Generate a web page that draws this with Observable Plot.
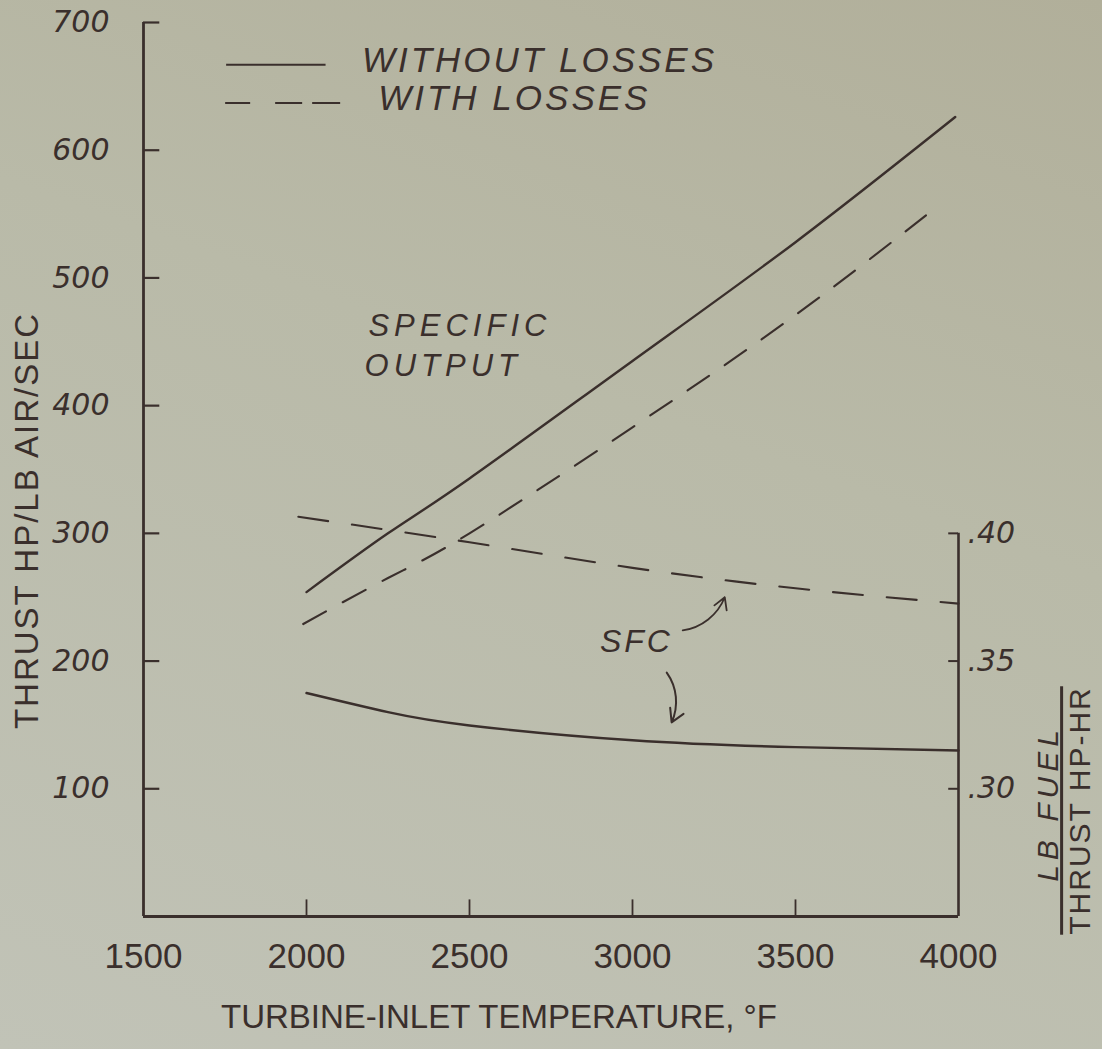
<!DOCTYPE html>
<html>
<head>
<meta charset="utf-8">
<script src="https://cdn.jsdelivr.net/npm/d3@7"></script>
<script src="https://cdn.jsdelivr.net/npm/@observablehq/plot@0.6"></script>
<style>
  html, body { margin: 0; padding: 0; }
  body {
    width: 1102px; height: 1049px; overflow: hidden;
    background: linear-gradient(200deg, #b1af9a 0%, #b9baa8 40%, #c1c3b7 100%);
  }
  #chart svg { display: block; }
</style>
</head>
<body>
<div id="chart"></div>
<script>
// ---- data ----
const xTicks = [1500, 2000, 2500, 3000, 3500, 4000];
const yTicks = [100, 200, 300, 400, 500, 600, 700];
const sfcTicks = [0.30, 0.35, 0.40];

// specific output, thrust hp per lb air/sec
const outTempsWithout = [2000, 2250, 2500, 3000, 3500, 3990];
const outWithout      = [254, 300, 343, 435, 528, 626];
const outTempsWith    = [1990, 2250, 2500, 3000, 3500, 3940];
const outWith         = [229, 265, 300, 383, 471, 557];

// specific fuel consumption, lb fuel / thrust hp-hr
const sfcTempsWithout = [2000, 2250, 2500, 3000, 3500, 4000];
const sfcWithout      = [0.3375, 0.3300, 0.3248, 0.3190, 0.3163, 0.3150];
const sfcTempsWith    = [1975, 2500, 3000, 3500, 4000];
const sfcWith         = [0.4065, 0.3965, 0.3865, 0.3785, 0.3725];

// right axis: .30 <-> 100, .40 <-> 300 on the left scale
const sfcToLeft = s => (s - 0.25) * 2000;
const leftToSfc = v => v / 2000 + 0.25;

const rows = (xs, ys, series) => xs.map((x, i) => ({x, y: ys[i], series}));
const outA = rows(outTempsWithout, outWithout, "without");
const outB = rows(outTempsWith, outWith, "with");
const sfcA = rows(sfcTempsWithout, sfcWithout.map(sfcToLeft), "without");
const sfcB = rows(sfcTempsWith, sfcWith.map(sfcToLeft), "with");

const ink = "#3a2f2c";
const tickFont = "'DejaVu Sans', sans-serif";

const chart = Plot.plot({
  width: 1102,
  height: 1049,
  marginLeft: 143,
  marginRight: 144,
  marginTop: 22,
  marginBottom: 133,
  x: {domain: [1500, 4000]},
  y: {domain: [0, 700]},
  style: {background: "transparent", fontFamily: "'Liberation Sans', sans-serif", color: ink},
  marks: [
    // axis frame lines
    Plot.ruleX([1500], {y1: 0, y2: 700, stroke: ink, strokeWidth: 2.8}),
    Plot.ruleY([0], {x1: 1500, x2: 4000, stroke: ink, strokeWidth: 2.8}),
    Plot.ruleX([4000], {y1: 0, y2: sfcToLeft(0.40), stroke: ink, strokeWidth: 2.6}),
    // inward ticks
    Plot.ruleY(yTicks, {x1: 1500, x2: 1550, stroke: ink, strokeWidth: 2.2}),
    Plot.ruleX(xTicks.slice(1, -1), {y1: 0, y2: 13, stroke: ink, strokeWidth: 1.8}),
    Plot.ruleY(sfcTicks.map(sfcToLeft), {x1: 3970, x2: 4000, stroke: ink, strokeWidth: 2}),
    // tick labels
    Plot.axisY(yTicks, {anchor: "left", tickSize: 0, tickPadding: 34, fontSize: 30, fontStyle: "italic",
      fontFamily: tickFont, label: null, color: ink}),
    Plot.axisX(xTicks, {anchor: "bottom", tickSize: 0, tickPadding: 27, fontSize: 35, tickFormat: d => String(d),
      label: null, color: ink}),
    Plot.axisY(sfcTicks.map(sfcToLeft), {anchor: "right", tickSize: 0, tickPadding: 9, fontSize: 30, fontStyle: "italic",
      fontFamily: tickFont, tickFormat: v => "." + Math.round(leftToSfc(v) * 100), label: null, color: ink}),
    // curves
    Plot.line(outA, {x: "x", y: "y", curve: "natural", stroke: ink, strokeWidth: 2.4}),
    Plot.line(outB, {x: "x", y: "y", curve: "natural", stroke: ink, strokeWidth: 2.1, strokeDasharray: "26,19"}),
    Plot.line(sfcA, {x: "x", y: "y", curve: "natural", stroke: ink, strokeWidth: 2.4}),
    Plot.line(sfcB, {x: "x", y: "y", curve: "natural", stroke: ink, strokeWidth: 2.1, strokeDasharray: "30,24"}),
    // legend
    Plot.ruleY([667], {x1: 1755, x2: 2060, stroke: ink, strokeWidth: 2}),
    Plot.ruleY([637], {x1: 1752, x2: 2105, stroke: ink, strokeWidth: 2, strokeDasharray: "25,25,27,10,28"}),
    Plot.text(["WITHOUT LOSSES"], {x: 2170, y: 670, textAnchor: "start", fontSize: 35, fontStyle: "italic", fill: ink}),
    Plot.text(["WITH LOSSES"], {x: 2220, y: 640, textAnchor: "start", fontSize: 35, fontStyle: "italic", fill: ink}),
    // annotations
    Plot.text(["SPECIFIC"], {x: 2190, y: 462, textAnchor: "start", fontSize: 31, fontStyle: "italic", fill: ink}),
    Plot.text(["OUTPUT"], {x: 2178, y: 431, textAnchor: "start", fontSize: 31, fontStyle: "italic", fill: ink}),
    Plot.text(["SFC"], {x: 2900, y: 215, textAnchor: "start", fontSize: 32, fontStyle: "italic", fill: ink}),
    Plot.arrow([0], {x1: 3154, y1: 224, x2: 3283, y2: 250, bend: -30, headLength: 11, stroke: ink, strokeWidth: 1.8}),
    Plot.arrow([0], {x1: 3105, y1: 191, x2: 3120, y2: 152, bend: 30, headLength: 11, stroke: ink, strokeWidth: 2}),
    // axis titles
    Plot.text(["THRUST HP/LB AIR/SEC"], {frameAnchor: "left", textAnchor: "middle", rotate: -90, dx: -116, dy: 51,
      fontSize: 33, fill: ink}),
    Plot.text(["TURBINE-INLET TEMPERATURE, °F"], {frameAnchor: "bottom", dx: -52, dy: 111, fontSize: 33, fill: ink}),
    Plot.text(["LB FUEL"], {frameAnchor: "right", textAnchor: "middle", rotate: -90, dx: 90, dy: 334,
      fontSize: 30, fontStyle: "italic", fill: ink}),
    Plot.text(["THRUST HP-HR"], {frameAnchor: "right", textAnchor: "middle", rotate: -90, dx: 122, dy: 341,
      fontSize: 30, fill: ink})
  ]
});

d3.select(chart).selectAll("text").each(function() {
  const t = this.textContent;
  const s = d3.select(this);
  if (t === "THRUST HP-HR") s.style("text-decoration", "overline").style("letter-spacing", "2px");
  if (t === "LB FUEL") s.style("letter-spacing", "5px");
  if (t === "WITHOUT LOSSES" || t === "WITH LOSSES") s.style("letter-spacing", "3px");
  if (t === "SPECIFIC" || t === "OUTPUT") s.style("letter-spacing", "5px");
  if (t === "SFC") s.style("letter-spacing", "3px");
  if (t === "THRUST HP/LB AIR/SEC") s.style("letter-spacing", "2px");
});

document.getElementById("chart").appendChild(chart);
</script>
</body>
</html>
